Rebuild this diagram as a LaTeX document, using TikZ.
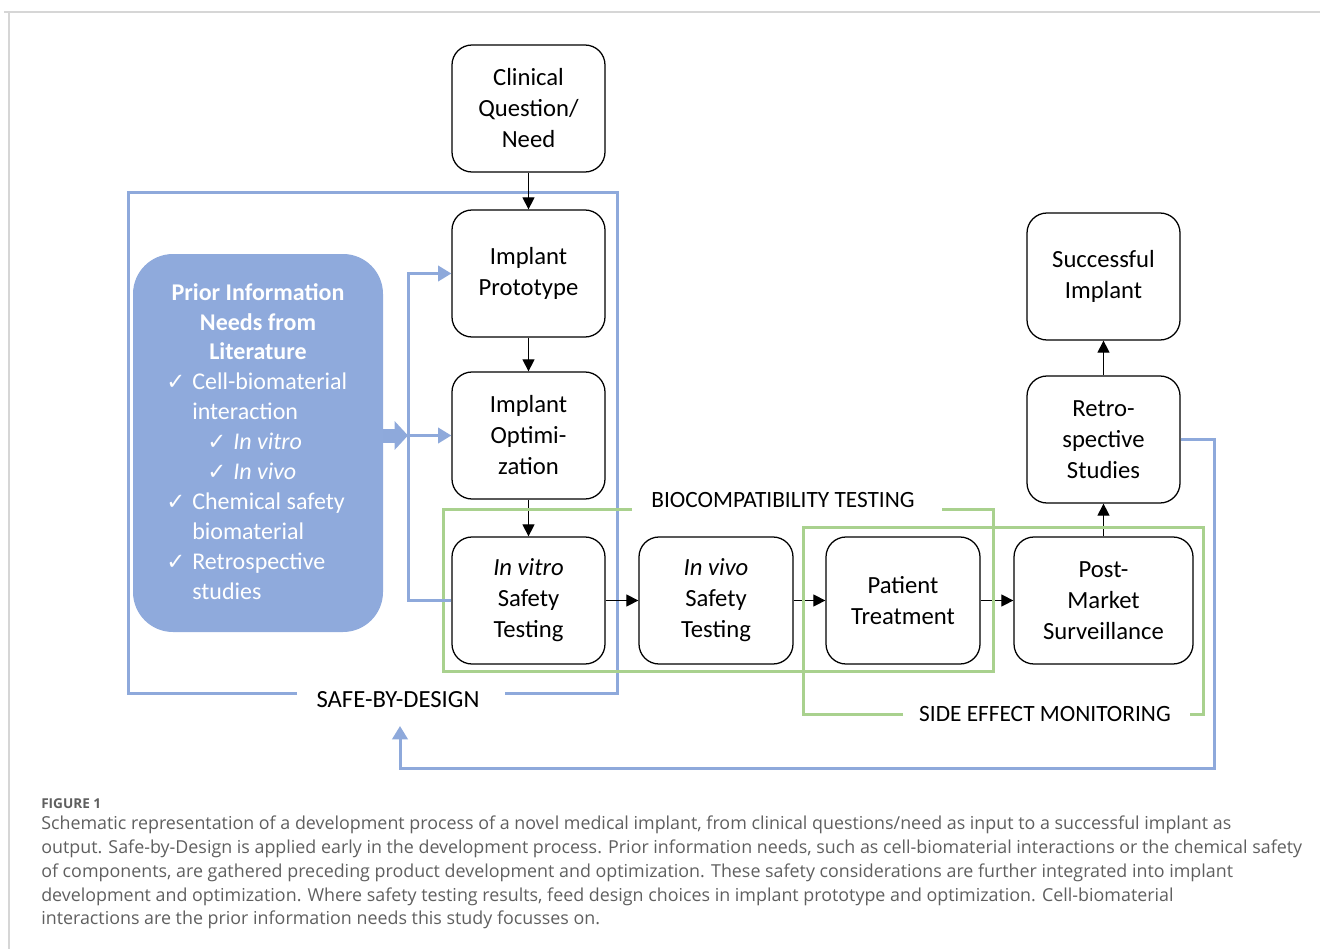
\documentclass[tikz,border=0pt]{standalone}
\usepackage{fontspec}
\setmainfont{Carlito}
\newfontfamily\capfont{Open Sans}
\newfontfamily\symfont{DejaVu Sans}
\usetikzlibrary{arrows.meta}
\definecolor{sbdblue}{HTML}{8EA9DB}
\definecolor{priorfill}{HTML}{8FAADC}
\definecolor{biogreen}{HTML}{A9D18E}
\definecolor{capgray}{HTML}{5F5F5F}
\definecolor{pagegray}{HTML}{D6D6D6}
\newcommand{\chk}{{\symfont\fontsize{17}{17}\selectfont ✓}}
\begin{document}
\begin{tikzpicture}[x=0.75pt,y=-0.75pt,
  stagebox/.style={draw, rounded corners=15pt, line width=0.95pt, fill=white,
    minimum width=114.75pt, minimum height=95.25pt, align=center,
    font=\fontsize{18.5}{23.25}\selectfont, inner sep=0pt},
  flow/.style={-{Triangle[length=9pt,width=9pt]}, line width=0.9pt},
  blueline/.style={draw=sbdblue, line width=2.25pt},
  bluearrow/.style={blueline, -{Triangle[length=10pt,width=11.5pt]}},
  greenline/.style={draw=biogreen, line width=2.25pt},
  framelabel/.style={font=\fontsize{17.5}{21}\selectfont, inner sep=0pt},
  priortext/.style={font=\fontsize{18}{22}\selectfont, text=white, inner sep=0pt, anchor=base west},
  priorhead/.style={font=\fontsize{18}{22}\selectfont\bfseries, text=white, inner sep=0pt, anchor=base},
  captext/.style={font=\capfont\fontsize{13.4}{16}\selectfont, text=capgray, inner sep=0pt, anchor=base west}
]
\useasboundingbox (0,0) rectangle (1320,949);
% page frame
\draw[pagegray, line width=1.5pt] (4,12) -- (1320,12);
\draw[pagegray, line width=1.5pt] (9,12) -- (9,949);

% SAFE-BY-DESIGN frame
\node[framelabel, font=\fontsize{18.5}{21}\selectfont] (sbdlab) at (398,700) {SAFE-BY-DESIGN};
\draw[blueline] (297,693) -- (128,693) -- (128,192) -- (617,192) -- (617,693) -- (505,693);

% prior information box
\node[fill=priorfill, rounded corners=30pt, minimum width=187.5pt, minimum height=283.5pt, inner sep=0pt] (prior) at (258,443) {};
\node[priorhead] (ph1) at (258,300) {Prior Information};
\node[priorhead] (ph2) at (258,330) {Needs from};
\node[priorhead] (ph3) at (258,359) {Literature};
\node[priortext] (pc1) at (166,389) {\chk};
\node[priortext] (pt1) at (192,389) {Cell-biomaterial};
\node[priortext] (pt2) at (192,419) {interaction};
\node[priortext] (pc2) at (207,449) {\chk};
\node[priortext] (pt3) at (233,449) {\itshape In vitro};
\node[priortext] (pc3) at (207,479) {\chk};
\node[priortext] (pt4) at (233,479) {\itshape In vivo};
\node[priortext] (pc4) at (166,509) {\chk};
\node[priortext] (pt5) at (192,509) {Chemical safety};
\node[priortext] (pt6) at (192,539) {biomaterial};
\node[priortext] (pc5) at (166,569) {\chk};
\node[priortext] (pt7) at (192,569) {Retrospective};
\node[priortext] (pt8) at (192,599) {studies};

% stage boxes
\node[stagebox] (clin) at (528.5,108.5) {Clinical\\Question/\\Need};
\node[stagebox] (proto) at (528.5,273.5) {Implant\\Prototype};
\node[stagebox] (optim) at (528.5,435.5) {Implant\\Optimi-\\zation};
\node[stagebox] (vitro) at (528.5,600.5) {\textit{In vitro}\\Safety\\Testing};
\node[stagebox, minimum width=115.5pt] (vivo) at (716,600.5) {\textit{In vivo}\\Safety\\Testing};
\node[stagebox, minimum width=115.5pt] (pat) at (903,600.5) {Patient\\Treatment};
\node[stagebox, minimum width=134.25pt] (post) at (1103.5,600.5) {Post-\\Market\\Surveillance};
\node[stagebox] (retro) at (1103.5,439.5) {Retro-\\spective\\Studies};
\node[stagebox] (succ) at (1103.5,276.5) {Successful\\Implant};

% flow arrows
\draw[flow] (clin) -- (proto);
\draw[flow] (proto) -- (optim);
\draw[flow] (optim) -- (vitro);
\draw[flow] (vitro) -- (vivo);
\draw[flow] (vivo) -- (pat);
\draw[flow] (pat) -- (post);
\draw[flow] (post) -- (retro);
\draw[flow] (retro) -- (succ);

% green frames
\node[framelabel] (biolab) at (783,500) {BIOCOMPATIBILITY TESTING};
\draw[greenline] (632,509) -- (443,509) -- (443,671) -- (993,671) -- (993,509) -- (942,509);
\node[framelabel] (sidelab) at (1045,714) {SIDE EFFECT MONITORING};
\draw[greenline] (903,714) -- (803,714) -- (803,527) -- (1203,527) -- (1203,714) -- (1190,714);

% blue feedback
\coordinate (fbx) at (408,435.5);
\draw[bluearrow] (vitro.west) -| (fbx) |- (proto.west);
\draw[bluearrow] (fbx) -- (optim.west);
\draw[sbdblue, line width=10.5pt, -{Triangle[length=10pt,width=21pt]}] (prior.east |- optim.west) -- (fbx);
\coordinate (fbr) at (1214,768);
\coordinate (sbdtip) at (400,726);
\draw[bluearrow] (retro.east) -| (fbr) -| (sbdtip);

% caption
\node[anchor=base west, inner sep=0pt, font=\capfont\bfseries\fontsize{10.2}{12}\selectfont, text=capgray] (figlab) at (41,808) {FIGURE 1};
\node[captext] (c1) at (41,829) {Schematic representation of a development process of a novel medical implant, from clinical questions/need as input to a successful implant as};
\node[captext] (c2) at (41,853) {output. Safe-by-Design is applied early in the development process. Prior information needs, such as cell-biomaterial interactions or the chemical safety};
\node[captext] (c3) at (41,877) {of components, are gathered preceding product development and optimization. These safety considerations are further integrated into implant};
\node[captext] (c4) at (41,901) {development and optimization. Where safety testing results, feed design choices in implant prototype and optimization. Cell-biomaterial};
\node[captext] (c5) at (41,924) {interactions are the prior information needs this study focusses on.};
\end{tikzpicture}
\end{document}
